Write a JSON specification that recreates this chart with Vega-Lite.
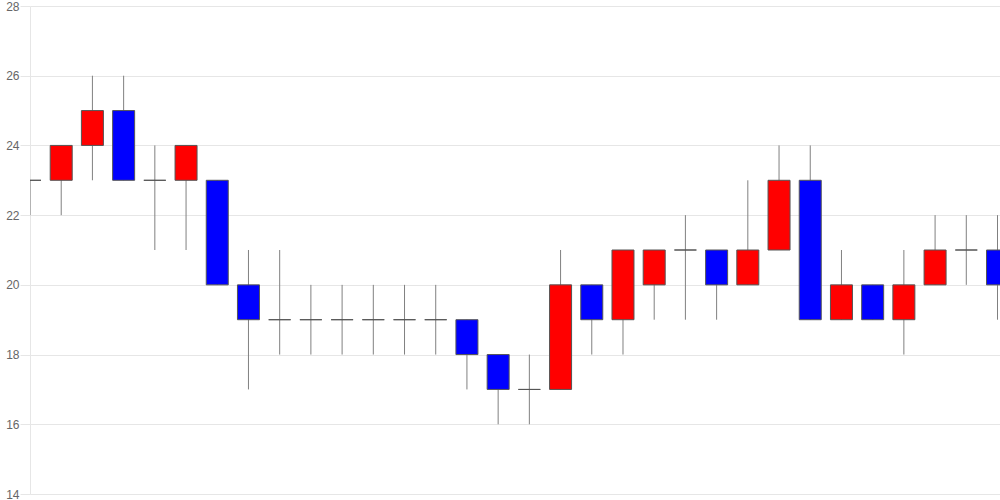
{
  "$schema": "https://vega.github.io/schema/vega-lite/v6.json",
  "width": 970,
  "height": 488,
  "autosize": "none",
  "padding": {"left": 30, "top": 6, "right": 0, "bottom": 6},
  "background": "white",
  "config": {"view": {"stroke": null}},
  "data": {"values": [
    {"day": 0, "open": 23, "close": 23, "high": 23, "low": 22},
    {"day": 1, "open": 23, "close": 24, "high": 24, "low": 22},
    {"day": 2, "open": 24, "close": 25, "high": 26, "low": 23},
    {"day": 3, "open": 25, "close": 23, "high": 26, "low": 23},
    {"day": 4, "open": 23, "close": 23, "high": 24, "low": 21},
    {"day": 5, "open": 23, "close": 24, "high": 24, "low": 21},
    {"day": 6, "open": 23, "close": 20, "high": 23, "low": 20},
    {"day": 7, "open": 20, "close": 19, "high": 21, "low": 17},
    {"day": 8, "open": 19, "close": 19, "high": 21, "low": 18},
    {"day": 9, "open": 19, "close": 19, "high": 20, "low": 18},
    {"day": 10, "open": 19, "close": 19, "high": 20, "low": 18},
    {"day": 11, "open": 19, "close": 19, "high": 20, "low": 18},
    {"day": 12, "open": 19, "close": 19, "high": 20, "low": 18},
    {"day": 13, "open": 19, "close": 19, "high": 20, "low": 18},
    {"day": 14, "open": 19, "close": 18, "high": 19, "low": 17},
    {"day": 15, "open": 18, "close": 17, "high": 18, "low": 16},
    {"day": 16, "open": 17, "close": 17, "high": 18, "low": 16},
    {"day": 17, "open": 17, "close": 20, "high": 21, "low": 17},
    {"day": 18, "open": 20, "close": 19, "high": 20, "low": 18},
    {"day": 19, "open": 19, "close": 21, "high": 21, "low": 18},
    {"day": 20, "open": 20, "close": 21, "high": 21, "low": 19},
    {"day": 21, "open": 21, "close": 21, "high": 22, "low": 19},
    {"day": 22, "open": 21, "close": 20, "high": 21, "low": 19},
    {"day": 23, "open": 20, "close": 21, "high": 23, "low": 20},
    {"day": 24, "open": 21, "close": 23, "high": 24, "low": 21},
    {"day": 25, "open": 23, "close": 19, "high": 24, "low": 19},
    {"day": 26, "open": 19, "close": 20, "high": 21, "low": 19},
    {"day": 27, "open": 20, "close": 19, "high": 20, "low": 19},
    {"day": 28, "open": 19, "close": 20, "high": 21, "low": 18},
    {"day": 29, "open": 20, "close": 21, "high": 22, "low": 20},
    {"day": 30, "open": 21, "close": 21, "high": 22, "low": 20},
    {"day": 31, "open": 21, "close": 20, "high": 22, "low": 19}
  ]},
  "encoding": {
    "x": {
      "field": "day",
      "type": "quantitative",
      "scale": {"domain": [0, 31.08], "nice": false, "zero": false, "padding": 0},
      "axis": {"title": null, "labels": false, "ticks": false, "domain": true, "domainColor": "#e6e6e6", "grid": false, "orient": "bottom"}
    }
  },
  "layer": [
    {
      "mark": {"type": "rule", "color": "#808080", "strokeWidth": 1, "clip": true},
      "encoding": {
        "y": {
          "field": "low",
          "type": "quantitative",
          "scale": {"domain": [14, 28], "nice": false, "zero": false},
          "axis": {
            "title": null,
            "values": [14, 16, 18, 20, 22, 24, 26, 28],
            "grid": true,
            "gridColor": "#e6e6e6",
            "domain": true,
            "domainColor": "#e6e6e6",
            "tickColor": "#e6e6e6",
            "tickSize": 10,
            "labelPadding": 1,
            "labelColor": "#666666",
            "labelFontSize": 12,
            "labelFont": "Liberation Sans",
            "labelFlush": false
          }
        },
        "y2": {"field": "high"}
      }
    },
    {
      "mark": {"type": "bar", "size": 22, "stroke": "#555555", "strokeWidth": 1, "clip": true},
      "encoding": {
        "y": {"field": "open", "type": "quantitative"},
        "y2": {"field": "close"},
        "color": {
          "condition": {"test": "datum.close > datum.open", "value": "#ff0000"},
          "value": "#0000ff"
        }
      }
    }
  ]
}
